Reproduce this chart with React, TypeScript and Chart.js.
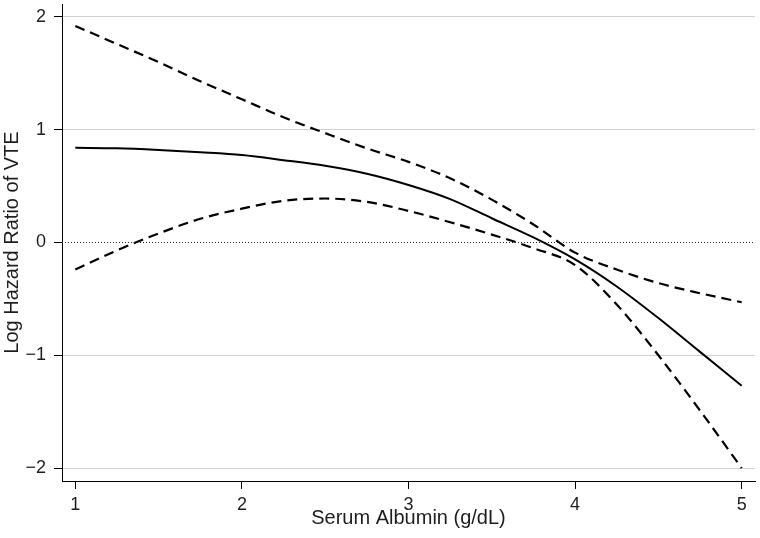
import React, { useEffect, useRef } from "react";
import { Chart, registerables } from "chart.js";

Chart.register(...registerables);

const xValues = [1, 1.25, 1.5, 1.75, 2, 2.25, 2.5, 2.75, 3, 3.25, 3.5, 3.75, 4, 4.25, 4.5, 4.75, 5];
const estimate = [0.84, 0.835, 0.82, 0.8, 0.775, 0.73, 0.68, 0.61, 0.51, 0.385, 0.215, 0.045, -0.15, -0.39, -0.67, -0.97, -1.27];
const upperCI = [1.92, 1.76, 1.6, 1.43, 1.27, 1.11, 0.97, 0.835, 0.715, 0.57, 0.38, 0.16, -0.09, -0.24, -0.36, -0.45, -0.53];
const lowerCI = [-0.24, -0.07, 0.08, 0.21, 0.3, 0.37, 0.39, 0.36, 0.28, 0.18, 0.07, -0.05, -0.2, -0.55, -1.0, -1.49, -2.0];
const xTicks = [1, 2, 3, 4, 5];
const yTicks = [-2, -1, 0, 1, 2];
const xRange = [0.92, 5.08];
const yRange = [-2.115, 2.115];
const referenceY = 0;
const xTitle = "Serum Albumin (g/dL)";
const yTitle = "Log Hazard Ratio of VTE";

const textColor = "#1e1e1e";
const fontFamily = "'Liberation Sans', Arial, Helvetica, sans-serif";

export default function App() {
  const ref = useRef<HTMLCanvasElement | null>(null);

  useEffect(() => {
    if (!ref.current) return;
    const toPts = (ys: number[]) => xValues.map((x, i) => ({ x, y: ys[i] }));
    const chart = new Chart(ref.current, {
      type: "line",
      data: {
        datasets: [
          {
            data: [
              { x: xRange[0], y: referenceY },
              { x: xRange[1], y: referenceY },
            ],
            borderColor: "#222",
            borderWidth: 1,
            borderDash: [1, 2],
            pointRadius: 0,
            tension: 0,
          },
          {
            data: toPts(upperCI),
            borderColor: "#000",
            borderWidth: 2.2,
            borderDash: [10, 6],
            pointRadius: 0,
            cubicInterpolationMode: "monotone",
          },
          {
            data: toPts(lowerCI),
            borderColor: "#000",
            borderWidth: 2.2,
            borderDash: [10, 6],
            pointRadius: 0,
            cubicInterpolationMode: "monotone",
          },
          {
            data: toPts(estimate),
            borderColor: "#000",
            borderWidth: 2,
            pointRadius: 0,
            cubicInterpolationMode: "monotone",
          },
        ],
      },
      options: {
        animation: false,
        responsive: false,
        layout: { padding: { top: 4, right: 5, left: 0, bottom: 0 } },
        plugins: { legend: { display: false }, tooltip: { enabled: false } },
        scales: {
          x: {
            type: "linear",
            min: xRange[0],
            max: xRange[1],
            afterBuildTicks: (s: any) => {
              s.ticks = xTicks.map((v) => ({ value: v }));
            },
            afterFit: (s: any) => {
              s.height = 57;
              s.paddingLeft = 0;
              s.paddingRight = 0;
            },
            grid: {
              drawOnChartArea: false,
              drawTicks: true,
              tickLength: 8,
              tickColor: "#000",
              tickWidth: 1,
            },
            border: { display: true, color: "#000", width: 1 },
            ticks: {
              color: textColor,
              font: { family: fontFamily, size: 18 },
              padding: 5,
              maxRotation: 0,
              callback: (v: any) => String(v),
            },
            title: {
              display: true,
              text: xTitle,
              color: textColor,
              font: { family: fontFamily, size: 20 },
              padding: { top: 0, bottom: 8 },
            },
          },
          y: {
            type: "linear",
            min: yRange[0],
            max: yRange[1],
            afterBuildTicks: (s: any) => {
              s.ticks = yTicks.map((v) => ({ value: v }));
            },
            afterFit: (s: any) => {
              s.width = 62;
              s.paddingTop = 0;
              s.paddingBottom = 0;
            },
            grid: {
              color: (ctx: any) => (ctx.tick && ctx.tick.value === referenceY ? "rgba(0,0,0,0)" : "#cfcfcf"),
              lineWidth: 1,
              drawTicks: true,
              tickLength: 8,
              tickColor: "#000",
              tickWidth: 1,
            },
            border: { display: true, color: "#000", width: 1 },
            ticks: {
              color: textColor,
              font: { family: fontFamily, size: 18 },
              padding: 8,
              callback: (v: any) => (v < 0 ? "\u2212" + Math.abs(v) : String(v)),
            },
            title: {
              display: true,
              text: yTitle,
              color: textColor,
              font: { family: fontFamily, size: 20 },
              padding: { top: 0, bottom: 0 },
            },
          },
        },
      },
    } as any);
    return () => chart.destroy();
  }, []);

  return (
    <div style={{ position: "fixed", left: 0, top: 0, width: 760, height: 538, background: "#fff" }}>
      <canvas ref={ref} width={760} height={538} style={{ display: "block" }} />
    </div>
  );
}
